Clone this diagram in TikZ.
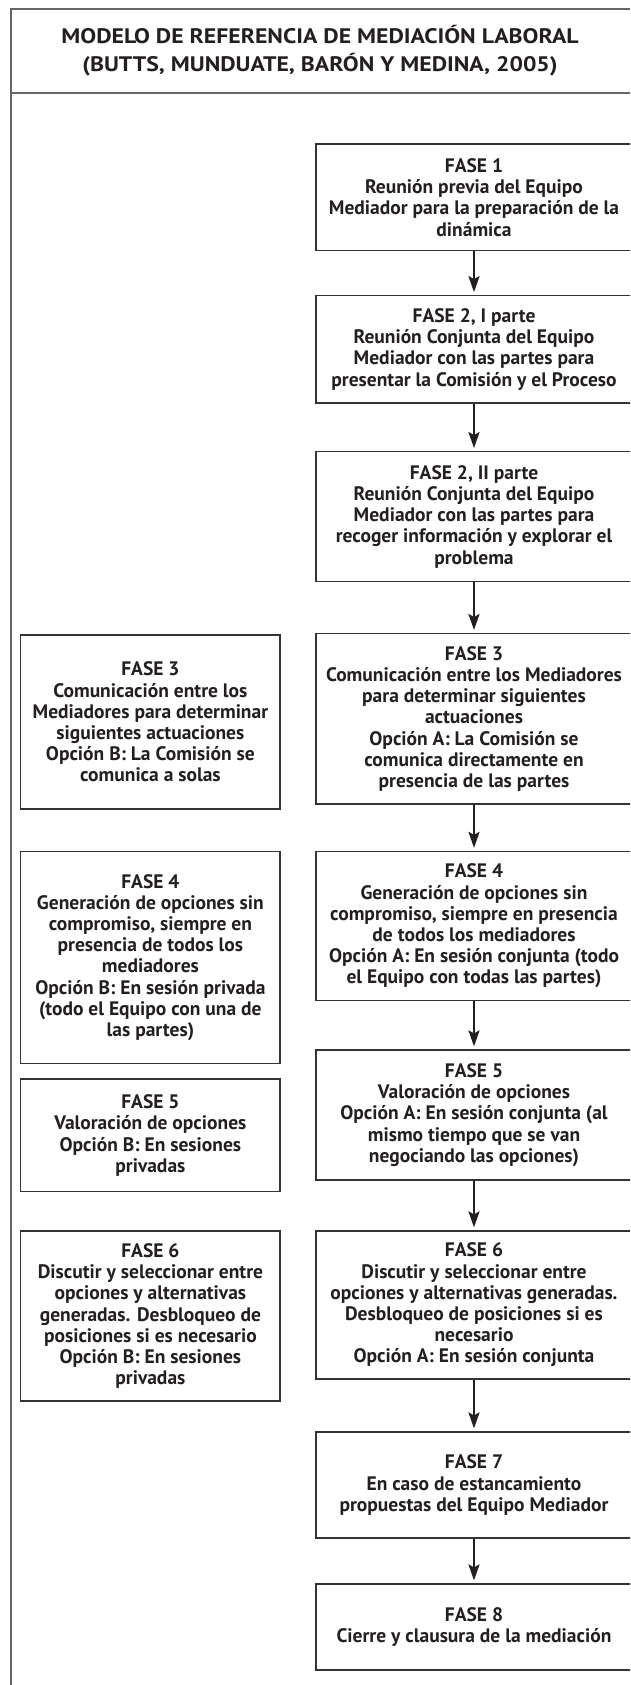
\documentclass[tikz,border=0pt]{standalone}
\usepackage{fontspec}
\setmainfont{PT Sans}
\newfontfamily\titlefont{PT Sans}[FakeStretch=1.13]
\usetikzlibrary{arrows.meta}
\definecolor{framec}{HTML}{666666}
\definecolor{boxc}{HTML}{333333}
\definecolor{txt}{HTML}{231F20}
\begin{document}
\begin{tikzpicture}[x=1pt,y=-1pt,
  boxbase/.style={draw=boxc, line width=1.2pt, align=center, inner sep=0pt, text=txt,
    font=\bfseries\fontsize{19.5}{21.2}\selectfont},
  rbox/.style={boxbase, minimum width=316pt},
  lbox/.style={boxbase, minimum width=259.3pt},
  arr/.style={draw=txt, line width=2.3pt, -{Stealth[length=16pt,width=11pt,inset=3pt]}, shorten >=3pt},
  frameline/.style={draw=framec, line width=1.6pt}]
\path[use as bounding box, clip] (0,0) rectangle (630,1685);
\fill[white] (0,0) rectangle (630,1685);
% frame
\draw[frameline] (11,1700) -- (11,9) -- (660,9);
\draw[frameline] (11,93) -- (660,93);
\node[text=txt, align=center, font=\titlefont\bfseries\fontsize{21}{28}\selectfont] (title) at (320,51)
  {MODELO DE REFERENCIA DE MEDIACIÓN LABORAL\\(BUTTS, MUNDUATE, BARÓN Y MEDINA, 2005)};
% right column
\node[rbox, minimum height=106.7pt] (f1) at (474,197.4)
  {FASE 1\\Reunión previa del Equipo\\Mediador para la preparación de la\\dinámica};
\node[rbox, minimum height=107.3pt] (f2a) at (474,349.4)
  {FASE 2, I parte\\Reunión Conjunta del Equipo\\Mediador con las partes para\\presentar la Comisión y el Proceso};
\node[rbox, minimum height=129.8pt] (f2b) at (474,516.6)
  {FASE 2, II parte\\Reunión Conjunta del Equipo\\Mediador con las partes para\\recoger información y explorar el\\problema};
\node[rbox, minimum height=170.4pt] (f3a) at (474,718.8)
  {FASE 3\\Comunicación entre los Mediadores\\para determinar siguientes\\actuaciones\\Opción A: La Comisión se\\comunica directamente en\\presencia de las partes};
\node[rbox, minimum height=149pt] (f4a) at (474,926)
  {FASE 4\\Generación de opciones sin\\compromiso, siempre en presencia\\de todos los mediadores\\Opción A: En sesión conjunta (todo\\el Equipo con todas las partes)};
\node[rbox, minimum height=130pt] (f5a) at (474,1115)
  {FASE 5\\Valoración de opciones\\Opción A: En sesión conjunta (al\\mismo tiempo que se van\\negociando las opciones)};
\node[rbox, minimum height=148pt] (f6a) at (474,1305)
  {FASE 6\\Discutir y seleccionar entre\\opciones y alternativas generadas.\\Desbloqueo de posiciones si es\\necesario\\Opción A: En sesión conjunta};
\node[rbox, minimum height=106pt] (f7) at (474,1485)
  {FASE 7\\En caso de estancamiento\\propuestas del Equipo Mediador};
\node[rbox, minimum height=86pt] (f8) at (474,1627)
  {FASE 8\\Cierre y clausura de la mediación};
% left column
\node[lbox, minimum height=174pt] (f3b) at (150.4,722)
  {FASE 3\\Comunicación entre los\\Mediadores para determinar\\siguientes actuaciones\\Opción B: La Comisión se\\comunica a solas};
\node[lbox, minimum height=212pt] (f4b) at (150.4,957.5)
  {FASE 4\\Generación de opciones sin\\compromiso, siempre en\\presencia de todos los\\mediadores\\Opción B: En sesión privada\\(todo el Equipo con una de\\las partes)};
\node[lbox, minimum height=112.8pt] (f5b) at (150.4,1135.4)
  {FASE 5\\Valoración de opciones\\Opción B: En sesiones\\privadas};
\node[lbox, minimum height=170pt] (f6b) at (150.4,1316)
  {FASE 6\\Discutir y seleccionar entre\\opciones y alternativas\\generadas. Desbloqueo de\\posiciones si es necesario\\Opción B: En sesiones\\privadas};
% arrows
\draw[arr] (f1.south) -- (f2a.north);
\draw[arr] (f2a.south) -- (f2b.north);
\draw[arr] (f2b.south) -- (f3a.north);
\draw[arr] (f3a.south) -- (f4a.north);
\draw[arr] (f4a.south) -- (f5a.north);
\draw[arr] (f5a.south) -- (f6a.north);
\draw[arr] (f6a.south) -- (f7.north);
\draw[arr] (f7.south) -- (f8.north);
\end{tikzpicture}
\end{document}
